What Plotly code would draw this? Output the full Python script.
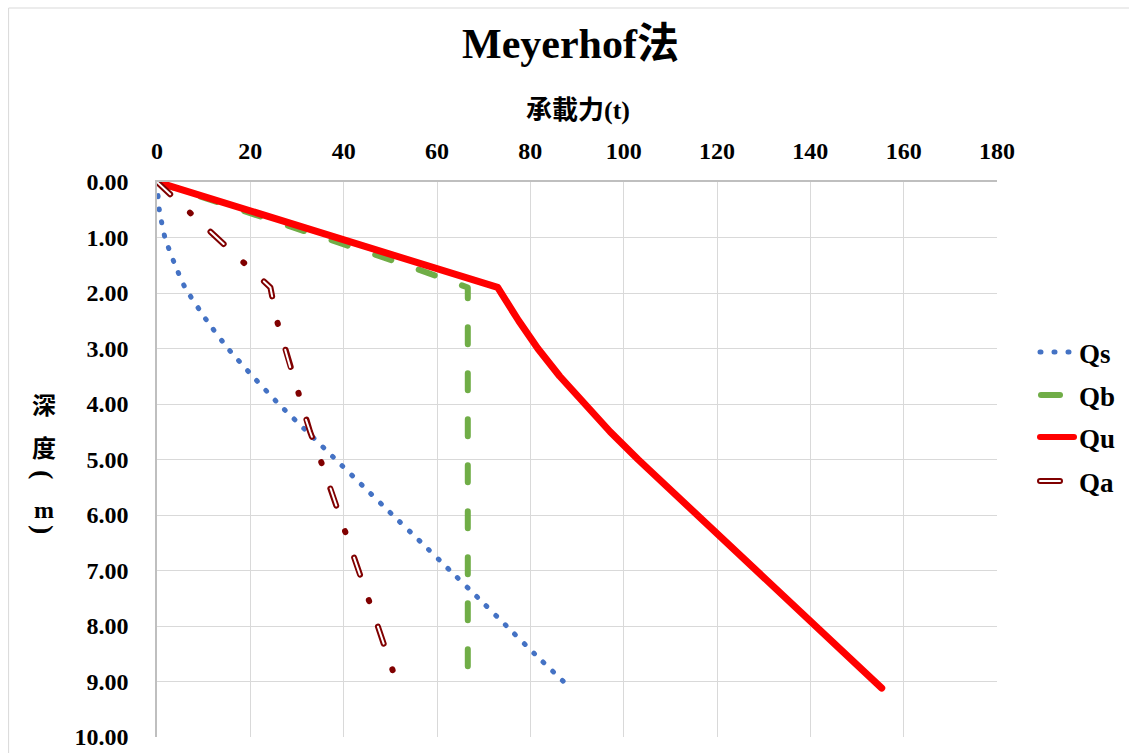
import plotly.graph_objects as go

# ---- data ----
depth = [0, 0.5, 1.0, 1.5, 1.9, 2.5, 3.0, 3.5, 4.0, 4.5, 5.0, 5.5, 6.0, 6.5, 7.0, 7.5, 8.0, 8.5, 9.12]
qs = [0, 0.5, 1.7, 3.9, 6.0, 10.7, 15.2, 20.5, 26.1, 32.2, 38.3, 44.4, 50.5, 56.7, 62.8, 68.9, 74.9, 80.9, 88.6]
qb = [0, 18.0, 36.0, 53.5, 66.6, 66.6, 66.6, 66.6, 66.6, 66.6, 66.6, 66.6, 66.6, 66.6, 66.6, 66.6, 66.6, 66.6, 66.6]
qu = [0, 19.2, 38.4, 57.6, 73.0, 77.5, 81.6, 86.3, 91.5, 97.1, 103.1, 109.4, 115.8, 122.1, 128.4, 134.8, 141.1, 147.4, 155.3]
qa = [0, 6.4, 12.8, 19.2, 24.3, 25.7, 27.4, 29.1, 30.8, 32.8, 35.0, 37.1, 39.1, 41.1, 43.2, 45.2, 47.3, 49.3, 51.8]

series_names = ["Qs", "Qb", "Qu", "Qa"]
x_ticks = [0, 20, 40, 60, 80, 100, 120, 140, 160, 180]
y_ticks = [0, 1, 2, 3, 4, 5, 6, 7, 8, 9, 10]

title_text = "Meyerhof法"
x_title = "承載力(t)"
y_title_chars = ["深", "度", "(", "m", ")"]

# ---- styles ----
C_QS = "#4472C4"
C_QB = "#70AD47"
C_QU = "#FF0000"
C_QA = "#800000"
FONT = "Liberation Serif, Noto Sans CJK TC, serif"
GRID = "#D9D9D9"

W, H = 1129, 753
L, R, T, B = 157, 132, 182, 16
PW, PH = W - L - R, H - T - B


def px(xp):
    return (xp - L) / PW


def py(yp):
    return (H - B - yp) / PH


fig = go.Figure()
fig.add_trace(go.Scatter(x=qs, y=depth, mode="lines", name="Qs",
                         line=dict(color=C_QS, width=5, dash="1px,12.4px",
                                   shape="spline", smoothing=0.5)))
fig.add_trace(go.Scatter(x=qb, y=depth, mode="lines", name="Qb",
                         line=dict(color=C_QB, width=6, dash="17px,29px")))
fig.add_trace(go.Scatter(x=qu, y=depth, mode="lines", name="Qu",
                         line=dict(color=C_QU, width=7)))
fig.add_trace(go.Scatter(x=qa, y=depth, mode="lines", name="Qa",
                         line=dict(color=C_QA, width=6, dash="18px,27px,1px,27px")))
fig.add_trace(go.Scatter(x=qa, y=depth, mode="lines", name="Qa", showlegend=False,
                         hoverinfo="skip",
                         line=dict(color="white", width=2, dash="18px,55px")))

shapes = []
# outer chart border
shapes.append(dict(type="rect", xref="paper", yref="paper",
                   x0=px(9), x1=px(1140), y0=py(765), y1=py(8),
                   line=dict(color="#D9D9D9", width=1), fillcolor="rgba(0,0,0,0)", layer="below"))

# manual legend samples
leg_y = {"Qs": 352, "Qb": 395, "Qu": 437, "Qa": 481}
shapes.append(dict(type="line", xref="paper", yref="paper", x0=px(1040), x1=px(1069),
                   y0=py(leg_y["Qs"]), y1=py(leg_y["Qs"]),
                   line=dict(color=C_QS, width=5, dash="1px,13px")))
shapes.append(dict(type="line", xref="paper", yref="paper", x0=px(1041), x1=px(1060),
                   y0=py(leg_y["Qb"]), y1=py(leg_y["Qb"]),
                   line=dict(color=C_QB, width=6)))
shapes.append(dict(type="line", xref="paper", yref="paper", x0=px(1040), x1=px(1074),
                   y0=py(leg_y["Qu"]), y1=py(leg_y["Qu"]),
                   line=dict(color=C_QU, width=6)))
shapes.append(dict(type="line", xref="paper", yref="paper", x0=px(1040), x1=px(1060),
                   y0=py(leg_y["Qa"]), y1=py(leg_y["Qa"]),
                   line=dict(color=C_QA, width=6)))
shapes.append(dict(type="line", xref="paper", yref="paper", x0=px(1040), x1=px(1060),
                   y0=py(leg_y["Qa"]), y1=py(leg_y["Qa"]),
                   line=dict(color="white", width=2)))

annotations = []
annotations.append(dict(text=title_text, xref="paper", yref="paper", x=px(570), y=py(44),
                        xanchor="center", yanchor="middle", showarrow=False,
                        font=dict(family=FONT, size=42, color="black", weight="bold")))
annotations.append(dict(text=x_title, xref="paper", yref="paper", x=px(578), y=py(111),
                        xanchor="center", yanchor="middle", showarrow=False,
                        font=dict(family=FONT, size=26, color="black", weight="bold")))
y_char_pos = [406, 449, 474, 510, 529]
y_char_angle = [0, 0, 90, 0, 90]
y_char_size = [24, 24, 28, 24, 28]
for ch, yy, ang, sz in zip(y_title_chars, y_char_pos, y_char_angle, y_char_size):
    annotations.append(dict(text=ch, xref="paper", yref="paper", x=px(44), y=py(yy),
                            xanchor="center", yanchor="middle", showarrow=False, textangle=ang,
                            font=dict(family=FONT, size=sz, color="black", weight="bold")))
for name in series_names:
    annotations.append(dict(text=name, xref="paper", yref="paper", x=px(1077), y=py(leg_y[name] + 2),
                            xanchor="left", yanchor="middle", showarrow=False,
                            font=dict(family=FONT, size=27, color="black", weight="bold")))

fig.update_layout(
    width=W, height=H,
    margin=dict(l=L, r=R, t=T, b=B, pad=0, autoexpand=False),
    paper_bgcolor="white", plot_bgcolor="white",
    showlegend=False,
    font=dict(family=FONT, color="black"),
    shapes=shapes,
    annotations=annotations,
    xaxis=dict(range=[0, 180], side="top", tickmode="array", tickvals=x_ticks,
               ticktext=[str(v) for v in x_ticks], automargin=False,
               showgrid=True, gridcolor=GRID, gridwidth=1, zeroline=False,
               showline=True, linecolor="#BFBFBF", linewidth=1.5, ticks="",
               tickfont=dict(family=FONT, size=24, color="black", weight="bold"),
               ticklabelstandoff=12, fixedrange=True),
    yaxis=dict(range=[10, 0], tickmode="array", tickvals=y_ticks,
               ticktext=["%.2f" % v for v in y_ticks], automargin=False,
               showgrid=True, gridcolor=GRID, gridwidth=1, zeroline=False,
               showline=True, linecolor="#BFBFBF", linewidth=1.5, ticks="",
               tickfont=dict(family=FONT, size=24, color="black", weight="bold"),
               ticklabelstandoff=22, fixedrange=True),
)

post = """
document.documentElement.style.margin='0';
document.body.style.margin='0';
document.body.style.padding='0';
document.body.style.overflow='hidden';
var gd = document.getElementById('{plot_id}');
function rc(){
  gd.querySelectorAll('.scatterlayer path.js-line, .shapelayer path').forEach(function(p){
    p.style.strokeLinecap='round'; p.style.strokeLinejoin='round';
  });
}
rc();
gd.on('plotly_afterplot', rc);
"""

fig.write_html("out.html", post_script=post, config={"displayModeBar": False})
